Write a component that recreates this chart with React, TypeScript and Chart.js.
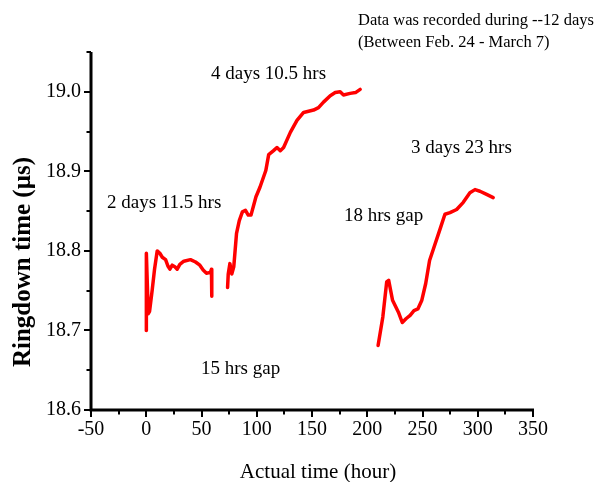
import React, { useEffect, useRef } from 'react';
import { Chart, registerables } from 'chart.js';

Chart.register(...registerables);

// ---- Data ----
const seg1Hours = [0, 0.1, 1.8, 3, 5.4, 7.5, 9.9, 12.3, 14.5, 17.5, 19.6, 21.4, 23.5, 25.9, 28, 30.4, 34, 40, 44.6, 48.5, 51.5, 54.5, 58.1, 59, 59.3];
const seg1Values = [18.700, 18.797, 18.721, 18.724, 18.751, 18.777, 18.800, 18.797, 18.792, 18.789, 18.781, 18.777, 18.782, 18.780, 18.777, 18.783, 18.787, 18.789, 18.786, 18.782, 18.776, 18.772, 18.773, 18.777, 18.743];

const seg2Hours = [73.6, 74.2, 75.7, 77.4, 79.2, 81.7, 84.2, 87, 89.8, 92.3, 94.8, 99.3, 102.9, 108.2, 110.8, 115.2, 118.3, 121.3, 124.3, 130.4, 136.4, 142.4, 151.4, 155.9, 160.4, 166.5, 171, 175.5, 178.5, 184.5, 189.4, 193.6];
const seg2Values = [18.754, 18.771, 18.784, 18.771, 18.780, 18.822, 18.838, 18.849, 18.851, 18.845, 18.845, 18.868, 18.880, 18.901, 18.921, 18.926, 18.930, 18.926, 18.930, 18.949, 18.964, 18.974, 18.977, 18.980, 18.987, 18.995, 18.999, 19.000, 18.996, 18.998, 18.999, 19.003];

const seg3Hours = [209.8, 214.1, 217.6, 219.4, 222.9, 228.2, 231.7, 235.3, 238.8, 242.3, 245.8, 249.4, 252.9, 256.4, 259.8, 265.8, 270.3, 274.9, 280.9, 286.9, 292.9, 297.5, 302, 308, 314];
const seg3Values = [18.681, 18.717, 18.761, 18.763, 18.738, 18.723, 18.710, 18.715, 18.719, 18.725, 18.727, 18.738, 18.759, 18.788, 18.802, 18.827, 18.846, 18.848, 18.852, 18.861, 18.873, 18.877, 18.875, 18.871, 18.867];

const xMajorTicks = [-50, 0, 50, 100, 150, 200, 250, 300, 350];
const xMinorTicks = [-25, 25, 75, 125, 175, 225, 275, 325];
const yMajorTicks = [18.6, 18.7, 18.8, 18.9, 19.0];
const yMinorTicks = [18.65, 18.75, 18.85, 18.95, 19.05];

const xTitle = 'Actual time (hour)';
const yTitle = 'Ringdown time (\u00b5s)';
const noteLines = ['Data was recorded during --12 days', '(Between Feb. 24 - March 7)'];
const segmentLabels = ['2 days 11.5 hrs', '4 days 10.5 hrs', '3 days 23 hrs', '15 hrs gap', '18 hrs gap'];

// ---- Layout (pixel positions of free text) ----
const labelLayout = [
  { x: 107, y: 208 },
  { x: 211, y: 79 },
  { x: 411, y: 153 },
  { x: 201, y: 374 },
  { x: 344, y: 220.5 },
];
const SERIF = '"Liberation Serif", "Times New Roman", serif';

const toPoints = (xs: number[], ys: number[]) => xs.map((x, i) => ({ x, y: ys[i] }));

const decor = {
  id: 'decor',
  afterDraw(chart: any) {
    const { ctx, chartArea } = chart;
    const xs = chart.scales.x;
    const ys = chart.scales.y;
    const L = chartArea.left;
    const B = chartArea.bottom;
    const T = chartArea.top;
    const R = chartArea.right;
    ctx.save();
    ctx.strokeStyle = '#000';
    ctx.fillStyle = '#000';

    // axes lines
    ctx.lineWidth = 3;
    ctx.beginPath();
    ctx.moveTo(L, T);
    ctx.lineTo(L, B + 1.5);
    ctx.moveTo(L - 1.5, B);
    ctx.lineTo(R + 1, B);
    ctx.stroke();

    // ticks
    ctx.lineWidth = 2;
    ctx.beginPath();
    xMajorTicks.forEach((v) => {
      const px = Math.round(xs.getPixelForValue(v));
      ctx.moveTo(px, B);
      ctx.lineTo(px, B + 7);
    });
    xMinorTicks.forEach((v) => {
      const px = Math.round(xs.getPixelForValue(v));
      ctx.moveTo(px, B);
      ctx.lineTo(px, B + 4.5);
    });
    yMajorTicks.forEach((v) => {
      const py = Math.round(ys.getPixelForValue(v));
      ctx.moveTo(L, py);
      ctx.lineTo(L - 7, py);
    });
    yMinorTicks.forEach((v) => {
      const py = Math.round(ys.getPixelForValue(v));
      ctx.moveTo(L, py);
      ctx.lineTo(L - 4.5, py);
    });
    ctx.stroke();

    // tick labels
    ctx.font = `20px ${SERIF}`;
    ctx.textAlign = 'center';
    ctx.textBaseline = 'middle';
    xMajorTicks.forEach((v) => {
      ctx.fillText(String(v), xs.getPixelForValue(v), B + 20);
    });
    ctx.textAlign = 'right';
    yMajorTicks.forEach((v) => {
      ctx.fillText(v.toFixed(1), L - 10, ys.getPixelForValue(v));
    });

    // axis titles
    ctx.font = `21px ${SERIF}`;
    ctx.textAlign = 'center';
    ctx.textBaseline = 'alphabetic';
    ctx.fillText(xTitle, 318, 477.5);

    ctx.save();
    ctx.translate(30, 262);
    ctx.rotate(-Math.PI / 2);
    ctx.font = `bold 25px ${SERIF}`;
    ctx.textAlign = 'center';
    ctx.textBaseline = 'alphabetic';
    ctx.fillText(yTitle, 0, 0);
    ctx.restore();

    // annotations
    ctx.font = `19px ${SERIF}`;
    ctx.textAlign = 'left';
    ctx.textBaseline = 'alphabetic';
    segmentLabels.forEach((t, i) => {
      ctx.fillText(t, labelLayout[i].x, labelLayout[i].y);
    });

    ctx.font = `16.5px ${SERIF}`;
    ctx.fillText(noteLines[0], 358, 25);
    ctx.fillText(noteLines[1], 358, 47);

    ctx.restore();
  },
};

export default function App() {
  const ref = useRef<HTMLCanvasElement>(null);

  useEffect(() => {
    const canvas = ref.current;
    if (!canvas) return;
    const mk = (xs: number[], ys: number[]) => ({
      data: toPoints(xs, ys),
      borderColor: '#ff0000',
      backgroundColor: '#ff0000',
      borderWidth: 3.5,
      pointRadius: 0,
      fill: false,
      tension: 0,
      borderJoinStyle: 'round' as const,
      borderCapStyle: 'round' as const,
    });
    const chart = new Chart(canvas, {
      type: 'line',
      data: {
        datasets: [mk(seg1Hours, seg1Values), mk(seg2Hours, seg2Values), mk(seg3Hours, seg3Values)],
      },
      options: {
        responsive: false,
        animation: false,
        devicePixelRatio: 1,
        layout: { padding: { left: 91, top: 52, right: 79, bottom: 72 } },
        scales: {
          x: { type: 'linear', min: -50, max: 350, display: false },
          y: { type: 'linear', min: 18.6, max: 19.05, display: false },
        },
        plugins: {
          legend: { display: false },
          tooltip: { enabled: false },
        },
      },
      plugins: [decor],
    });
    return () => chart.destroy();
  }, []);

  return (
    <div style={{ position: 'absolute', left: 0, top: 0, width: 612, height: 482, background: '#fff' }}>
      <canvas ref={ref} width={612} height={482} style={{ display: 'block' }} />
    </div>
  );
}
